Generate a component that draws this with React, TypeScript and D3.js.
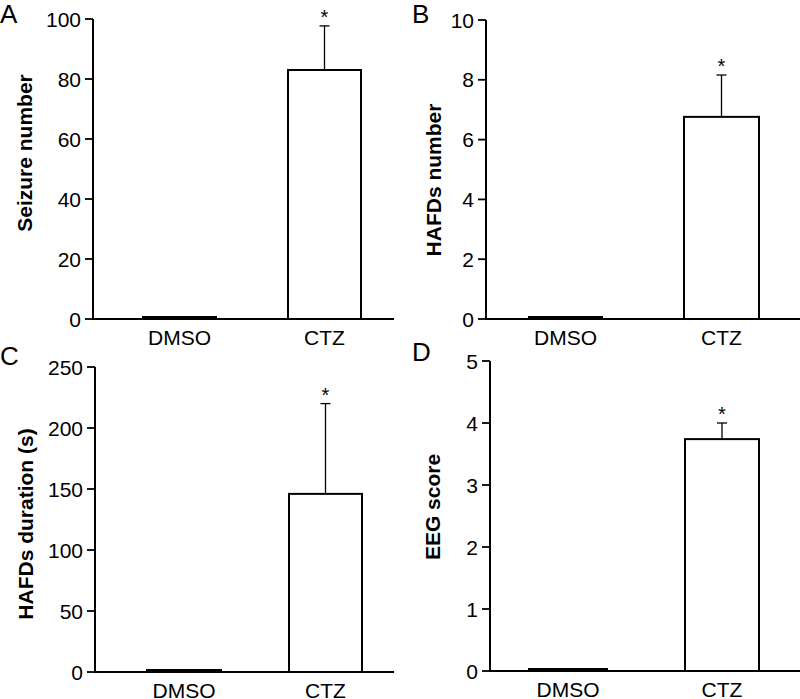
import React from "react";
import * as d3 from "d3";

const categories = ["DMSO", "CTZ"];
const panelLetters = ["A", "B", "C", "D"];
const yTitles = ["Seizure number", "HAFDs number", "HAFDs duration (s)", "EEG score"];
const yMax = [100, 10, 250, 5];
const yTicks = [
  [0, 20, 40, 60, 80, 100],
  [0, 2, 4, 6, 8, 10],
  [0, 50, 100, 150, 200, 250],
  [0, 1, 2, 3, 4, 5],
];
const meansA = [0.8, 83];
const meansB = [0.08, 6.76];
const meansC = [2, 146];
const meansD = [0.03, 3.74];
const errA = [0, 14.7];
const errB = [0, 1.4];
const errC = [0, 74];
const errD = [0, 0.26];
const significant = [false, true];

const means = [meansA, meansB, meansC, meansD];
const errs = [errA, errB, errC, errD];

// layout per panel
const layout = [
  { ox: 0, axisX: 93, top: 19, bottom: 319, right: 394, bars: [[142, 217], [288, 361]], titleX: 24, titleY: 153, letterY: 23 },
  { ox: 400, axisX: 486, top: 20, bottom: 319, right: 800, bars: [[528, 603], [684, 759]], titleX: 433, titleY: 180, letterY: 23 },
  { ox: 0, axisX: 95, top: 367, bottom: 672, right: 394, bars: [[146, 222], [289, 362]], titleX: 25, titleY: 524, letterY: 365 },
  { ox: 400, axisX: 490, top: 361, bottom: 671, right: 800, bars: [[528, 608], [685, 759]], titleX: 432, titleY: 507, letterY: 361 },
];

const FONT = "Liberation Sans, Arial, Helvetica, sans-serif";

function Panel({ i }: { i: number }) {
  const L = layout[i];
  const y = d3.scaleLinear().domain([0, yMax[i]]).range([L.bottom, L.top]);
  const x = d3
    .scaleOrdinal<string, number[]>()
    .domain(categories)
    .range(L.bars);
  return (
    <g>
      <text x={L.ox + (i % 2 === 0 ? 0 : 12)} y={L.letterY} fontSize={26} fontFamily={FONT}>
        {panelLetters[i]}
      </text>
      <text
        transform={`translate(${L.titleX},${L.titleY}) rotate(-90)`}
        textAnchor="middle"
        dominantBaseline="central"
        fontSize={21}
        fontWeight="bold"
        fontFamily={FONT}
      >
        {yTitles[i]}
      </text>
      {yTicks[i].map((t) => (
        <g key={t}>
          <line x1={L.axisX - 8} x2={L.axisX} y1={y(t)} y2={y(t)} stroke="#000" strokeWidth={1.8} />
          <text
            x={L.axisX - 12}
            y={y(t)}
            textAnchor="end"
            dominantBaseline="central"
            fontSize={21}
            fontFamily={FONT}
          >
            {t}
          </text>
        </g>
      ))}
      {categories.map((c, k) => {
        const [x0, x1] = x(c);
        const v = means[i][k];
        const e = errs[i][k];
        const cx = (x0 + x1) / 2;
        const yTop = y(v);
        const h = L.bottom - yTop;
        return (
          <g key={c}>
            {h > 3 ? (
              <rect x={x0} y={yTop} width={x1 - x0} height={h} fill="#fff" stroke="#000" strokeWidth={2} />
            ) : (
              <rect x={x0} y={L.bottom - 3} width={x1 - x0} height={3} fill="#000" />
            )}
            {e > 0 && (
              <g>
                <line x1={cx} x2={cx} y1={yTop} y2={y(v + e)} stroke="#000" strokeWidth={1.3} />
                <line x1={cx - 5} x2={cx + 5} y1={y(v + e)} y2={y(v + e)} stroke="#000" strokeWidth={1.3} />
              </g>
            )}
            {significant[k] && (
              <text x={cx} y={y(v + e) - 2} textAnchor="middle" fontSize={20} fontFamily={FONT}>
                *
              </text>
            )}
            <text x={cx} y={L.bottom + 26} textAnchor="middle" fontSize={21} fontFamily={FONT}>
              {c}
            </text>
          </g>
        );
      })}
      <line x1={L.axisX} x2={L.axisX} y1={L.top} y2={L.bottom} stroke="#000" strokeWidth={2} />
      <line x1={L.axisX - 1} x2={L.right} y1={L.bottom} y2={L.bottom} stroke="#000" strokeWidth={2} />
    </g>
  );
}

export default function App() {
  return (
    <svg width={800} height={699} style={{ position: "absolute", left: 0, top: 0, background: "#fff" }}>
      <rect width={800} height={699} fill="#fff" />
      {[0, 1, 2, 3].map((i) => (
        <Panel key={i} i={i} />
      ))}
    </svg>
  );
}
